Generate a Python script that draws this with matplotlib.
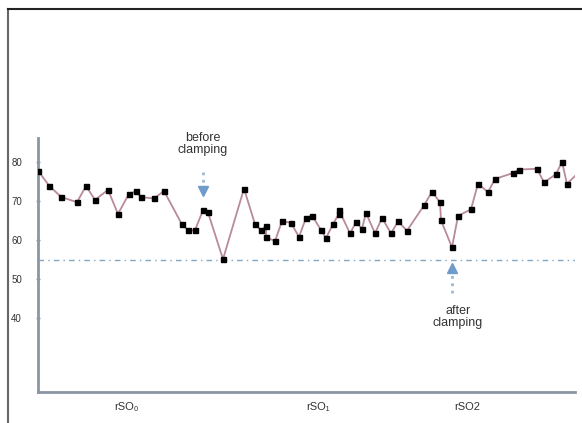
import matplotlib.pyplot as plt
from matplotlib.lines import Line2D

# readings taken off the trace (x: time position, y: rSO2 %)
time_pos = [0, 11, 23, 39, 48, 57, 70, 80, 91, 98, 103, 116, 126, 144, 150, 157,
            165, 170, 185, 206, 217, 223, 228, 228, 237, 244, 253, 261, 268, 274,
            283, 288, 295, 301, 301, 312, 318, 324, 328, 337, 344, 353, 360, 369,
            386, 394, 402, 403, 414, 420, 433, 440, 450, 457, 475, 481, 499, 506,
            518, 524, 529, 538]
rso2 = [77.8, 74.0, 71.1, 69.7, 73.9, 70.3, 72.9, 66.7, 71.9, 72.5, 71.0, 70.7,
        72.6, 64.0, 62.5, 62.5, 67.7, 67.1, 55.1, 73.2, 64.1, 62.5, 63.6, 60.8,
        59.7, 64.9, 64.4, 60.8, 65.7, 66.3, 62.6, 60.5, 64.1, 66.8, 67.7, 61.7,
        64.6, 62.9, 67.0, 61.7, 65.7, 61.7, 64.8, 62.4, 68.9, 72.4, 69.7, 65.1,
        58.1, 66.2, 67.9, 74.5, 72.3, 75.7, 77.2, 78.1, 78.3, 74.8, 76.9, 80.1,
        74.4, 76.7]
threshold = 55
y_ticks = [80, 70, 60, 50, 40]
x_tick_pos = [88, 280, 429]
x_tick_labels = ['rSO\u2080', 'rSO\u2081', 'rSO2']

plt.rcParams['font.family'] = ['Liberation Sans', 'DejaVu Sans']

fig = plt.figure(figsize=(5.82, 4.23), dpi=100)
ax = fig.add_axes([38 / 582, 1 - 392 / 423, 537 / 582, 254 / 423])

# trace: last reading has no marker in the original
ax.plot(time_pos, rso2, color='#b98a9a', lw=1.3, zorder=2)
ax.plot(time_pos[:-1], rso2[:-1], ls='none', marker='s', ms=3.6,
        color='black', zorder=3)

ax.axhline(threshold, color='#7fa7c6', lw=1, ls=(0, (4, 3, 1, 3)), zorder=1)

# before / after clamping arrows
arrow_col = '#6f9ccb'
ax.plot([165, 165], [77.6, 73.6], ls=':', lw=2, color='#9bb9d6', clip_on=False)
ax.plot([165], [72.6], marker='v', ms=7, color=arrow_col, clip_on=False)
ax.text(165, 84.6, 'before\nclamping', ha='center', va='center', fontsize=9,
        color='#333333', linespacing=1.0, clip_on=False)

ax.plot([414, 414], [46.5, 51.8], ls=':', lw=2, color='#9bb9d6')
ax.plot([414], [52.8], marker='^', ms=7, color=arrow_col)
ax.text(420, 40.3, 'after\nclamping', ha='center', va='center', fontsize=9,
        color='#333333', linespacing=1.0)

ax.set_xlim(0, 537)
ax.set_ylim(21, 86.2)
ax.set_yticks(y_ticks)
ax.set_yticklabels([str(v) for v in y_ticks])
ax.set_xticks(x_tick_pos)
ax.set_xticklabels(x_tick_labels)
ax.tick_params(axis='y', direction='inout', length=3, width=1, color='#8a96a3',
               labelsize=7, pad=10, labelcolor='#333333')
ax.tick_params(axis='x', length=0, labelsize=8, pad=7, labelcolor='#333333')

for side in ['top', 'right']:
    ax.spines[side].set_visible(False)
for side in ['left', 'bottom']:
    ax.spines[side].set_color('#8a96a3')
    ax.spines[side].set_linewidth(2)

# outer frame of the original figure
fig.add_artist(Line2D([8 / 582, 8 / 582], [0, 1 - 9 / 423], color='#666666', lw=1.5))
fig.add_artist(Line2D([8 / 582, 1], [1 - 9 / 423, 1 - 9 / 423], color='#222222', lw=1.5))

fig.savefig('out.png', dpi=100)
